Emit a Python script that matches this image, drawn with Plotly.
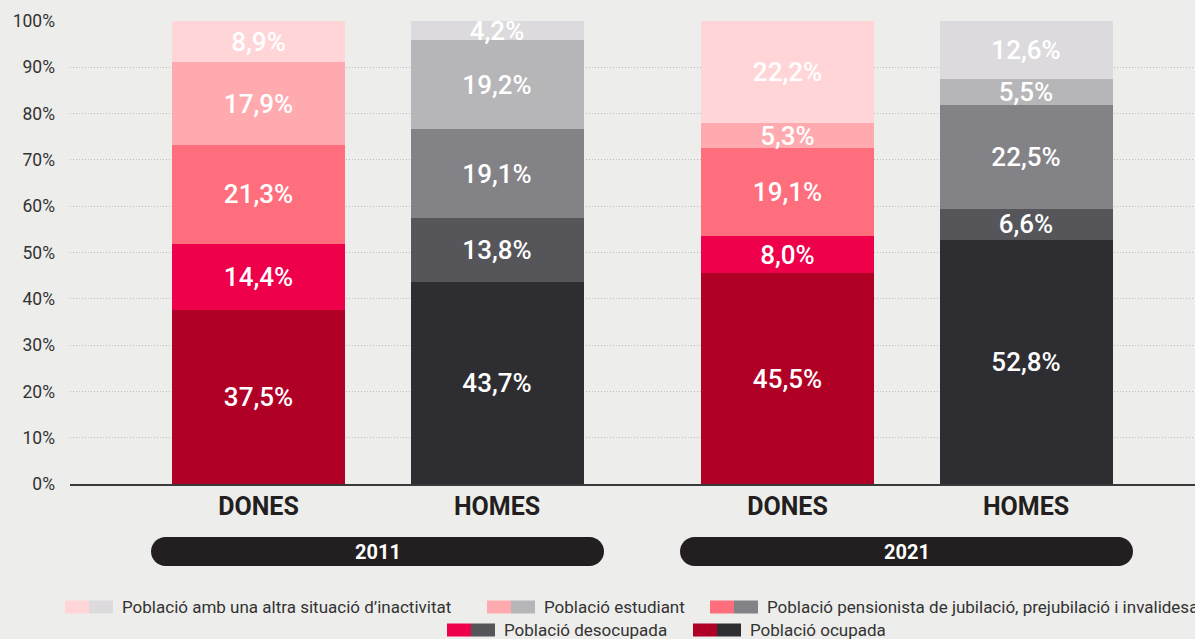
import plotly.graph_objects as go

# ---------------- data ----------------
genders = ["DONES", "HOMES", "DONES", "HOMES"]
years = ["2011", "2021"]
series_names = [
    "Població ocupada",
    "Població desocupada",
    "Població pensionista de jubilació, prejubilació i invalidesa",
    "Població estudiant",
    "Població amb una altra situació d’inactivitat",
]
ocupada = [37.5, 43.7, 45.5, 52.8]
desocupada = [14.4, 13.8, 8.0, 6.6]
pensionista = [21.3, 19.1, 19.1, 22.5]
estudiant = [17.9, 19.2, 5.3, 5.5]
altra = [8.9, 4.2, 22.2, 12.6]
series_values = [ocupada, desocupada, pensionista, estudiant, altra]
y_ticks = [0, 10, 20, 30, 40, 50, 60, 70, 80, 90, 100]

# ---------------- styling ----------------
women_colors = ["#b10026", "#ee004b", "#ff6e7d", "#ffaaaf", "#ffd5d8"]
men_colors = ["#2e2e32", "#55555a", "#838287", "#b6b6b8", "#dcdadd"]
BG = "#ededeb"
FONT = "Roboto"
W, H = 1195, 639
ML, MR, MT, MB = 70, 0, 21, 155
PW, PH = W - ML - MR, H - MT - MB

# x layout: slot unit and group offsets
GROUP_OFFSET = [0.0, 2.218]
x_pos = [GROUP_OFFSET[g] + i for g in range(2) for i in range(2)]
BAR_W = 0.7254
X_RANGE = [-0.7904, -0.7904 + PW / 238.5]

def fmt(v):
    return f"{v:.1f}".replace(".", ",") + "%"

fig = go.Figure()
for s, (name, vals) in enumerate(zip(series_names, series_values)):
    colors = [women_colors[s] if g == "DONES" else men_colors[s] for g in genders]
    fig.add_trace(go.Bar(
        x=x_pos, y=vals, width=[BAR_W] * 4, name=name,
        marker=dict(color=colors, line=dict(width=0)),
        text=[fmt(v) for v in vals], textposition="inside",
        insidetextanchor="middle", constraintext="none", textangle=0,
        textfont=dict(family=FONT, size=26, color="white", weight=500),
        showlegend=False, hoverinfo="skip",
    ))

fig.update_layout(
    barmode="stack", width=W, height=H,
    margin=dict(l=ML, r=MR, t=MT, b=MB),
    paper_bgcolor=BG, plot_bgcolor=BG,
    font=dict(family=FONT, color="#333333"),
    xaxis=dict(range=X_RANGE, tickvals=x_pos, ticktext=genders,
               tickfont=dict(family=FONT, size=25, color="#231f20", weight="bold"),
               showgrid=False, zeroline=False, showline=True,
               linecolor="#3a3a3a", linewidth=2, ticks="", ticklabelstandoff=-1),
    yaxis=dict(range=[0, 100], tickvals=y_ticks, ticktext=[f"{t}%" for t in y_ticks],
               tickfont=dict(family=FONT, size=17.5, color="#333333"),
               showgrid=True, gridcolor="#bdbdbd", griddash="1px,2px", gridwidth=1,
               zeroline=False, showline=False, ticks="", ticklabelstandoff=14),
)

# year pills
def px_to_paper_y(py):
    return (H - MB - py) / PH

y_top, y_bot = px_to_paper_y(537), px_to_paper_y(566)
rx, ry = 14.5 / 238.5, (y_top - y_bot) / 2
k = 0.5523
mid = (y_top + y_bot) / 2
for g, yr in enumerate(years):
    x0 = GROUP_OFFSET[g] - 0.4507
    x1 = GROUP_OFFSET[g] + 1 + 0.4486
    path = (f"M {x0+rx},{y_top} L {x1-rx},{y_top} "
            f"C {x1-rx+k*rx},{y_top} {x1},{mid+k*ry} {x1},{mid} "
            f"C {x1},{mid-k*ry} {x1-rx+k*rx},{y_bot} {x1-rx},{y_bot} "
            f"L {x0+rx},{y_bot} "
            f"C {x0+rx-k*rx},{y_bot} {x0},{mid-k*ry} {x0},{mid} "
            f"C {x0},{mid+k*ry} {x0+rx-k*rx},{y_top} {x0+rx},{y_top} Z")
    fig.add_shape(type="path", path=path, xref="x", yref="paper",
                  fillcolor="#231f20", line=dict(width=0), layer="above")
    fig.add_annotation(x=(x0 + x1) / 2, y=mid, xref="x", yref="paper", text=yr,
                       showarrow=False, xanchor="center", yanchor="middle",
                       font=dict(family=FONT, size=20, color="white", weight="bold"))

# manual legend with paired swatches
def px_to_paper_x(px):
    return (px - ML) / PW

legend_layout = [  # (series index, swatch left px, row center px)
    (4, 65, 607), (3, 487, 607), (2, 710, 607),
    (1, 447, 630), (0, 693, 630),
]
SW, SH = 24, 13
for s, lx, cy in legend_layout:
    for j, col in enumerate([women_colors[s], men_colors[s]]):
        fig.add_shape(type="rect", xref="paper", yref="paper",
                      x0=px_to_paper_x(lx + j * SW), x1=px_to_paper_x(lx + (j + 1) * SW),
                      y0=px_to_paper_y(cy + SH / 2), y1=px_to_paper_y(cy - SH / 2),
                      fillcolor=col, line=dict(width=0))
    fig.add_annotation(x=px_to_paper_x(lx + 2 * SW + 7), y=px_to_paper_y(cy),
                       xref="paper", yref="paper", text=series_names[s],
                       showarrow=False, xanchor="left", yanchor="middle",
                       font=dict(family=FONT, size=17, color="#333333"))

fig.write_html("out.html", config={"displayModeBar": False},
               post_script="document.body.style.margin='0px';")
